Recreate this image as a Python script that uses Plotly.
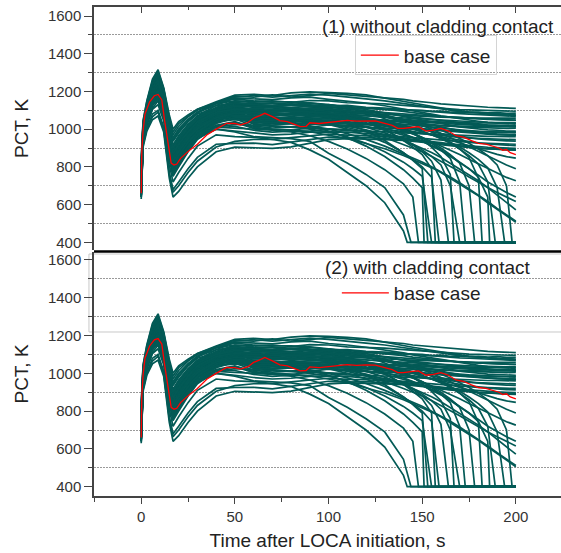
import plotly.graph_objects as go

# time grids of the run curves (s)
early_t = [0, 1, 3, 6, 9, 12, 15, 17, 20, 25, 30, 40, 50]
late_t = [60, 70, 80, 90, 100, 110, 120, 130, 140, 145, 150, 155, 160, 165, 170, 175, 180, 185, 190, 195, 200]

# runs that stay hot to 200 s: PCT (K) on early_t and late_t
steady_early = [
    [840, 1045, 1150, 1265, 1315, 1220, 1075, 1000, 1040, 1075, 1105, 1145, 1180],
    [800, 1020, 1125, 1235, 1280, 1195, 1030, 955, 1000, 1050, 1090, 1140, 1175],
    [760, 1000, 1100, 1210, 1255, 1170, 990, 915, 965, 1025, 1070, 1125, 1165],
    [720, 985, 1085, 1190, 1240, 1150, 960, 880, 930, 1000, 1055, 1115, 1150],
    [700, 975, 1075, 1180, 1225, 1140, 940, 860, 910, 985, 1040, 1100, 1140],
    [680, 965, 1065, 1165, 1210, 1125, 920, 840, 890, 965, 1025, 1090, 1130],
    [760, 995, 1090, 1195, 1245, 1160, 975, 895, 940, 1005, 1060, 1110, 1145],
    [690, 970, 1070, 1170, 1215, 1130, 930, 850, 900, 970, 1030, 1090, 1120],
    [650, 950, 1045, 1140, 1185, 1100, 885, 800, 850, 925, 985, 1060, 1100],
    [740, 990, 1085, 1185, 1230, 1145, 955, 875, 920, 990, 1045, 1100, 1125],
    [660, 955, 1050, 1150, 1195, 1110, 900, 815, 865, 940, 1000, 1070, 1105],
    [700, 975, 1070, 1170, 1215, 1130, 925, 845, 895, 960, 1015, 1075, 1095],
    [640, 940, 1035, 1130, 1170, 1085, 865, 780, 830, 905, 965, 1040, 1080],
    [720, 985, 1080, 1180, 1225, 1140, 945, 865, 910, 975, 1030, 1080, 1090],
    [670, 960, 1055, 1150, 1200, 1115, 905, 820, 870, 945, 1005, 1060, 1070],
    [650, 945, 1040, 1135, 1180, 1095, 880, 795, 845, 920, 980, 1040, 1055],
    [630, 930, 1020, 1110, 1150, 1060, 840, 750, 800, 880, 945, 1015, 1035],
    [680, 960, 1050, 1140, 1175, 1090, 870, 780, 830, 905, 965, 1020, 1015],
    [660, 950, 1040, 1125, 1160, 1075, 850, 760, 810, 885, 950, 1000, 990],
    [645, 935, 1025, 1105, 1130, 1045, 810, 720, 770, 845, 910, 970, 960],
    [640, 920, 1005, 1080, 1100, 1010, 770, 680, 720, 790, 850, 920, 925],
    [640, 905, 990, 1050, 1070, 985, 740, 640, 670, 740, 800, 880, 905],
    [790, 1015, 1115, 1225, 1270, 1185, 1015, 940, 985, 1040, 1085, 1135, 1170],
    [730, 985, 1085, 1190, 1235, 1150, 965, 885, 930, 1000, 1050, 1105, 1135],
    [710, 980, 1075, 1180, 1225, 1140, 945, 865, 915, 985, 1040, 1095, 1128],
    [690, 970, 1065, 1165, 1210, 1125, 925, 845, 895, 965, 1020, 1085, 1115],
    [670, 960, 1055, 1150, 1195, 1110, 905, 825, 875, 945, 1005, 1070, 1108],
    [700, 975, 1070, 1170, 1215, 1130, 930, 850, 900, 965, 1020, 1080, 1098],
    [660, 955, 1050, 1145, 1190, 1105, 895, 810, 860, 935, 995, 1060, 1085],
    [680, 965, 1060, 1160, 1205, 1120, 915, 835, 885, 955, 1010, 1070, 1088],
    [650, 945, 1040, 1135, 1180, 1095, 880, 795, 845, 920, 980, 1045, 1070],
    [670, 955, 1050, 1145, 1185, 1100, 890, 805, 855, 930, 990, 1050, 1062],
]
steady_late = [
    [1185, 1178, 1192, 1198, 1196, 1190, 1182, 1165, 1145, 1138, 1130, 1122, 1112, 1104, 1098, 1090, 1086, 1080, 1078, 1074, 1072],
    [1170, 1182, 1170, 1178, 1190, 1182, 1175, 1168, 1158, 1150, 1146, 1140, 1134, 1130, 1126, 1122, 1120, 1116, 1114, 1112, 1110],
    [1162, 1156, 1166, 1170, 1158, 1150, 1138, 1124, 1108, 1098, 1090, 1080, 1070, 1062, 1054, 1048, 1042, 1036, 1032, 1028, 1026],
    [1146, 1150, 1142, 1152, 1150, 1140, 1138, 1134, 1126, 1122, 1118, 1114, 1110, 1108, 1104, 1102, 1100, 1098, 1096, 1094, 1095],
    [1136, 1140, 1132, 1138, 1128, 1118, 1104, 1088, 1068, 1058, 1048, 1038, 1028, 1020, 1012, 1006, 1000, 996, 994, 990, 990],
    [1126, 1118, 1128, 1122, 1130, 1120, 1114, 1106, 1094, 1086, 1080, 1074, 1068, 1064, 1060, 1056, 1054, 1052, 1050, 1048, 1048],
    [1114, 1112, 1100, 1112, 1116, 1108, 1110, 1104, 1102, 1098, 1100, 1094, 1096, 1090, 1092, 1088, 1090, 1086, 1088, 1084, 1085],
    [1104, 1094, 1098, 1100, 1104, 1092, 1084, 1070, 1050, 1040, 1030, 1020, 1008, 1000, 992, 986, 980, 976, 972, 970, 968],
    [1090, 1086, 1078, 1090, 1094, 1086, 1080, 1078, 1072, 1070, 1068, 1066, 1064, 1062, 1060, 1060, 1058, 1058, 1058, 1056, 1058],
    [1082, 1072, 1078, 1072, 1080, 1068, 1058, 1042, 1022, 1010, 998, 988, 976, 968, 960, 954, 948, 944, 940, 938, 936],
    [1068, 1062, 1056, 1068, 1064, 1062, 1052, 1044, 1034, 1030, 1026, 1022, 1018, 1016, 1012, 1010, 1008, 1006, 1006, 1004, 1005],
    [1058, 1048, 1052, 1052, 1062, 1054, 1050, 1046, 1042, 1040, 1040, 1038, 1036, 1036, 1034, 1034, 1032, 1034, 1032, 1030, 1032],
    [1046, 1040, 1034, 1046, 1048, 1040, 1030, 1016, 998, 988, 978, 968, 958, 950, 942, 934, 928, 922, 918, 914, 912],
    [1036, 1028, 1030, 1030, 1040, 1034, 1030, 1028, 1024, 1022, 1020, 1018, 1018, 1016, 1016, 1014, 1014, 1012, 1014, 1012, 1012],
    [1026, 1018, 1012, 1026, 1024, 1020, 1010, 1000, 988, 982, 976, 970, 964, 960, 956, 952, 950, 948, 946, 944, 944],
    [1016, 1006, 1012, 1010, 1022, 1014, 1010, 1006, 1000, 998, 996, 994, 992, 990, 988, 988, 986, 986, 984, 984, 984],
    [1004, 998, 994, 1006, 1004, 998, 986, 972, 954, 944, 934, 926, 918, 912, 906, 902, 898, 896, 894, 892, 892],
    [994, 984, 990, 990, 1000, 992, 990, 986, 980, 978, 976, 972, 970, 968, 966, 964, 964, 962, 962, 960, 960],
    [978, 970, 974, 984, 986, 984, 976, 968, 958, 952, 948, 944, 940, 936, 932, 930, 926, 924, 922, 920, 920],
    [956, 946, 956, 966, 974, 968, 966, 960, 950, 946, 940, 934, 928, 922, 916, 912, 908, 904, 902, 900, 898],
    [926, 918, 932, 944, 958, 954, 956, 950, 944, 940, 934, 928, 922, 916, 910, 904, 900, 896, 892, 890, 888],
    [902, 898, 906, 926, 944, 950, 948, 944, 940, 936, 932, 926, 920, 914, 908, 904, 900, 896, 894, 892, 890],
    [1178, 1170, 1180, 1186, 1180, 1172, 1160, 1150, 1136, 1128, 1122, 1114, 1106, 1100, 1094, 1090, 1086, 1082, 1080, 1078, 1076],
    [1132, 1126, 1134, 1128, 1124, 1126, 1116, 1112, 1104, 1100, 1096, 1092, 1088, 1086, 1082, 1080, 1078, 1074, 1072, 1070, 1068],
    [1118, 1122, 1114, 1120, 1118, 1106, 1096, 1086, 1070, 1064, 1056, 1050, 1044, 1040, 1036, 1030, 1026, 1022, 1020, 1018, 1016],
    [1108, 1098, 1104, 1106, 1100, 1098, 1092, 1088, 1080, 1076, 1072, 1070, 1066, 1064, 1062, 1058, 1056, 1052, 1050, 1048, 1046],
    [1096, 1090, 1094, 1082, 1086, 1080, 1072, 1064, 1052, 1048, 1044, 1040, 1036, 1034, 1030, 1026, 1024, 1022, 1020, 1018, 1018],
    [1076, 1080, 1068, 1076, 1072, 1076, 1070, 1066, 1060, 1058, 1054, 1050, 1046, 1044, 1042, 1040, 1038, 1036, 1036, 1034, 1034],
    [1062, 1058, 1064, 1060, 1056, 1050, 1044, 1036, 1026, 1022, 1016, 1010, 1006, 1000, 996, 992, 988, 986, 984, 982, 980],
    [1052, 1056, 1046, 1058, 1054, 1058, 1052, 1048, 1042, 1040, 1036, 1032, 1030, 1026, 1024, 1022, 1020, 1018, 1016, 1016, 1014],
    [1040, 1046, 1040, 1038, 1044, 1036, 1028, 1020, 1010, 1006, 1000, 996, 992, 988, 984, 980, 976, 974, 972, 970, 968],
    [1030, 1022, 1030, 1036, 1032, 1028, 1024, 1018, 1010, 1006, 1002, 998, 994, 990, 986, 982, 980, 976, 974, 972, 970],
]

# runs that cool down slowly but do not quench before 200 s
sagging_early = [
    [700, 975, 1070, 1165, 1205, 1120, 915, 835, 885, 955, 1010, 1065, 1090],
    [750, 990, 1085, 1190, 1235, 1150, 960, 880, 925, 990, 1040, 1095, 1120],
    [690, 965, 1060, 1155, 1195, 1110, 900, 815, 865, 935, 990, 1050, 1080],
    [665, 955, 1045, 1140, 1180, 1095, 880, 795, 845, 920, 975, 1035, 1060],
    [780, 1000, 1100, 1205, 1250, 1165, 985, 905, 950, 1015, 1065, 1115, 1140],
    [655, 945, 1035, 1125, 1165, 1080, 860, 770, 820, 895, 955, 1020, 1040],
    [720, 980, 1075, 1175, 1220, 1135, 935, 855, 900, 970, 1025, 1080, 1105],
    [705, 975, 1065, 1160, 1200, 1115, 910, 830, 880, 950, 1000, 1055, 1075],
]
sagging_late = [
    [1080, 1072, 1082, 1074, 1070, 1060, 1046, 1030, 1010, 1002, 986, 972, 956, 942, 926, 912, 896, 880, 866, 854, 846],
    [1098, 1094, 1100, 1088, 1080, 1064, 1046, 1020, 990, 976, 956, 934, 914, 890, 866, 840, 816, 790, 766, 744, 726],
    [1060, 1054, 1050, 1046, 1030, 1010, 986, 956, 920, 902, 880, 856, 830, 806, 776, 746, 716, 690, 664, 640, 616],
    [1040, 1036, 1030, 1018, 1000, 976, 946, 910, 870, 850, 826, 800, 774, 746, 716, 684, 650, 616, 580, 546, 512],
    [1130, 1124, 1130, 1126, 1120, 1110, 1096, 1076, 1050, 1036, 1020, 1000, 980, 956, 930, 906, 880, 856, 830, 810, 790],
    [1010, 1000, 996, 986, 970, 950, 924, 896, 860, 840, 820, 796, 770, 740, 710, 680, 646, 610, 576, 540, 506],
    [1090, 1084, 1080, 1076, 1066, 1050, 1030, 1006, 976, 956, 936, 910, 886, 856, 824, 790, 756, 720, 690, 664, 640],
    [1050, 1046, 1044, 1040, 1030, 1016, 996, 970, 940, 920, 900, 876, 850, 820, 790, 760, 726, 690, 650, 610, 572],
]

# runs that quench: late values stop at the last grid point before the quench time
quenched_early = [
    [650, 915, 1000, 1065, 1090, 1000, 760, 665, 700, 770, 830, 905, 935],
    [700, 960, 1050, 1140, 1180, 1095, 880, 795, 845, 910, 960, 1000, 985],
    [760, 995, 1090, 1195, 1240, 1155, 965, 885, 930, 990, 1035, 1010, 1005],
    [680, 960, 1055, 1150, 1195, 1110, 900, 815, 865, 935, 990, 1040, 1050],
    [800, 1020, 1120, 1225, 1270, 1185, 1010, 935, 980, 1040, 1080, 1110, 1110],
    [665, 950, 1040, 1135, 1175, 1090, 870, 785, 835, 910, 965, 1010, 1025],
    [820, 1030, 1135, 1245, 1295, 1210, 1045, 970, 1015, 1065, 1100, 1135, 1150],
    [695, 965, 1060, 1155, 1200, 1115, 905, 820, 870, 945, 1000, 1050, 1070],
    [740, 990, 1085, 1185, 1230, 1145, 950, 870, 915, 980, 1035, 1085, 1110],
    [830, 1040, 1145, 1255, 1305, 1215, 1060, 985, 1030, 1070, 1105, 1140, 1160],
    [710, 975, 1070, 1165, 1210, 1125, 925, 845, 890, 960, 1015, 1060, 1075],
    [790, 1010, 1110, 1215, 1260, 1175, 995, 915, 960, 1020, 1065, 1105, 1125],
    [675, 955, 1050, 1145, 1190, 1105, 895, 810, 860, 930, 985, 1050, 1085],
    [810, 1025, 1130, 1240, 1285, 1200, 1025, 950, 995, 1050, 1090, 1125, 1140],
    [655, 945, 1035, 1130, 1170, 1085, 865, 780, 830, 905, 965, 1030, 1060],
    [745, 990, 1085, 1185, 1230, 1145, 955, 870, 920, 985, 1040, 1090, 1105],
    [705, 970, 1065, 1160, 1205, 1120, 915, 830, 880, 950, 1005, 1060, 1085],
    [775, 1000, 1095, 1200, 1245, 1160, 980, 900, 945, 1005, 1055, 1100, 1120],
]
quenched_late = [
    [945, 945, 930, 890, 840, 770, 700, 610, 460],
    [960, 955, 950, 935, 872, 820, 760, 690, 545],
    [1000, 995, 985, 965, 935, 895, 845, 785, 710, 640],
    [1040, 1035, 1030, 1015, 990, 955, 910, 855, 785, 740, 690],
    [1100, 1095, 1090, 1080, 1060, 1030, 990, 940, 875, 835, 790],
    [1020, 1015, 1010, 1000, 985, 960, 925, 880, 825, 790, 750],
    [1140, 1135, 1130, 1120, 1105, 1080, 1045, 1000, 940, 905, 865, 790],
    [1060, 1055, 1050, 1040, 1025, 1000, 970, 930, 875, 840, 800, 745],
    [1110, 1105, 1100, 1095, 1085, 1065, 1035, 995, 945, 915, 880, 830, 730],
    [1150, 1145, 1145, 1140, 1130, 1115, 1090, 1055, 1010, 980, 945, 905, 855, 760],
    [1070, 1065, 1060, 1055, 1045, 1030, 1010, 980, 945, 920, 890, 855, 810, 700],
    [1120, 1115, 1110, 1105, 1095, 1080, 1060, 1035, 1000, 980, 955, 925, 890, 845, 720],
    [1090, 1085, 1080, 1075, 1070, 1060, 1045, 1025, 995, 975, 955, 930, 900, 865, 820, 700],
    [1130, 1125, 1125, 1120, 1110, 1100, 1085, 1065, 1040, 1025, 1005, 985, 960, 930, 895, 850, 740],
    [1060, 1055, 1050, 1045, 1040, 1030, 1015, 995, 970, 955, 935, 915, 890, 860, 825, 790, 745, 640],
    [1100, 1095, 1095, 1090, 1085, 1075, 1060, 1045, 1020, 1005, 990, 970, 950, 925, 895, 860, 815, 720],
    [1080, 1075, 1075, 1070, 1065, 1055, 1045, 1030, 1010, 1000, 985, 970, 950, 930, 905, 875, 840, 795, 690],
    [1120, 1115, 1110, 1110, 1105, 1095, 1085, 1070, 1050, 1040, 1025, 1010, 995, 975, 950, 925, 895, 860, 810, 700],
]
quench_time = [142, 144, 148, 151, 153, 155, 157, 159, 164, 167, 170, 173, 178, 182, 186, 189, 194, 198]
quench_floor = 400

# base case
base_t = [0, 0.3, 1, 2, 4.5, 7, 9, 11, 12.5, 14.5, 16, 17.5, 19, 21, 26, 30, 35, 40, 45.6, 50,
          53, 57, 60, 63, 66, 70, 74, 78, 82, 85, 88, 90, 95, 100, 105, 110, 115, 120, 125, 130,
          134, 137, 140, 145, 148, 152, 156, 160, 164, 168, 172, 176, 180, 184, 188, 191, 193, 195, 197, 200]
base_pct = [660, 880, 990, 1080, 1145, 1177, 1184, 1155, 1045, 900, 820, 810, 815, 845, 890, 920, 969, 1000, 1031, 1030,
            1022, 1035, 1058, 1070, 1084, 1066, 1045, 1040, 1025, 1013, 1015, 1034, 1030, 1034, 1040, 1046, 1042, 1045, 1044, 1031,
            1020, 1004, 1004, 1010, 1013, 990, 995, 1004, 990, 965, 958, 940, 925, 920, 907, 900, 888, 892, 875, 865]

panel_labels = ["(1) without cladding contact", "(2) with cladding contact"]

TEAL = "rgb(3,90,86)"
FONT = "Arial, 'Liberation Sans', sans-serif"


def bundle_xy():
    # all runs in one trace, separated by None
    xs, ys = [], []
    for e, l in zip(steady_early + sagging_early, steady_late + sagging_late):
        xs += early_t + late_t + [None]
        ys += e + l + [None]
    for e, l, tq in zip(quenched_early, quenched_late, quench_time):
        xs += early_t + late_t[:len(l)] + [tq, late_t[-1], None]
        ys += e + l + [quench_floor, quench_floor, None]
    return xs, ys


bx, by = bundle_xy()

fig = go.Figure()
for xa, ya, lg in [("x2", "y", "legend"), ("x", "y2", "legend2")]:
    fig.add_trace(go.Scatter(x=bx, y=by, mode="lines", xaxis=xa, yaxis=ya,
                             line=dict(color=TEAL, width=1.7), showlegend=False, hoverinfo="skip"))
    fig.add_trace(go.Scatter(x=base_t, y=base_pct, mode="lines", xaxis=xa, yaxis=ya, name="base case",
                             line=dict(color="#ff0000", width=1.3), legend=lg))

x_range = [-25.2, 224.1]
y_common = dict(
    dtick=200, tick0=0, ticks="outside", ticklen=8, tickcolor="#444",
    minor=dict(dtick=100, ticks="outside", ticklen=4, tickcolor="#444",
               showgrid=True, gridcolor="#9a9a9a", griddash="2px,1px", gridwidth=1),
    showgrid=False, zeroline=False, showline=True, linecolor="#444", linewidth=1.5,
    tickfont=dict(size=15, color="#333"),
    title=dict(text="PCT, K", font=dict(size=19, color="#222"), standoff=14),
)
y_right = dict(side="right", dtick=100, tick0=0, ticks="inside", ticklen=5, tickcolor="#444",
               showticklabels=False, showgrid=False, zeroline=False, showline=False)

fig.update_layout(
    width=561, height=553,
    margin=dict(l=94, r=0, t=7, b=57, autoexpand=False),
    plot_bgcolor="white", paper_bgcolor="white",
    font=dict(family=FONT, color="#222"),
    xaxis=dict(anchor="y2", range=x_range, dtick=50, tick0=0, ticks="outside", ticklen=6, tickcolor="#444",
               minor=dict(dtick=25, ticks="outside", ticklen=4, tickcolor="#444"),
               showgrid=False, zeroline=False, showline=True, linecolor="#444", linewidth=1.5,
               tickfont=dict(size=15, color="#333"),
               title=dict(text="Time after LOCA initiation, s", font=dict(size=19, color="#222"), standoff=10)),
    xaxis2=dict(anchor="y", matches="x", side="top", dtick=50, tick0=0, ticks="inside", ticklen=6, tickcolor="#444",
                minor=dict(dtick=25, ticks="inside", ticklen=3, tickcolor="#444"),
                showticklabels=False, showgrid=False, zeroline=False, showline=True, linecolor="#444", linewidth=1.5),
    xaxis3=dict(anchor="y2", overlaying="x", matches="x", side="top", dtick=50, tick0=0, ticks="inside", ticklen=4,
                tickcolor="#444", minor=dict(dtick=25, ticks="inside", ticklen=3, tickcolor="#444"),
                showticklabels=False, showgrid=False, zeroline=False, showline=False),
    yaxis=dict(domain=[0.5031, 1], anchor="x2", range=[359.2, 1647.7], **y_common),
    yaxis2=dict(domain=[0, 0.499], anchor="x", range=[350.8, 1642.3], **y_common),
    yaxis3=dict(overlaying="y", anchor="x2", range=[359.2, 1647.7], **y_right),
    yaxis4=dict(overlaying="y2", anchor="x", range=[350.8, 1642.3], **y_right),
    legend=dict(x=0.5585, y=0.942, xanchor="left", yanchor="top", bgcolor="rgba(255,255,255,0)",
                bordercolor="#d4d4d4", borderwidth=1, itemwidth=38, font=dict(size=19, color="#222")),
    legend2=dict(x=0.52, y=0.415, xanchor="left", yanchor="middle", bgcolor="rgba(255,255,255,0)",
                 borderwidth=0, itemwidth=47, font=dict(size=19, color="#222")),
    showlegend=True,
)

# thick separator between the panels and the stray frame left in panel (2)
fig.add_shape(type="line", xref="paper", yref="paper", x0=0, x1=1, y0=0.5, y1=0.5,
              line=dict(color="black", width=2.5))
fig.add_shape(type="rect", xref="paper", yref="paper", x0=-0.0108, x1=1.02, y0=0.3354, y1=0.4949,
              line=dict(color="#c8c8c8", width=1), layer="below")

fig.add_annotation(text=panel_labels[0], xref="paper", yref="paper", x=0.989, y=0.961,
                   xanchor="right", yanchor="middle", showarrow=False, font=dict(size=19, color="#222"))
fig.add_annotation(text=panel_labels[1], xref="paper", yref="paper", x=0.939, y=0.4663,
                   xanchor="right", yanchor="middle", showarrow=False, font=dict(size=19, color="#222"))

# the page body has a default 8px margin; drop it so the figure sits at the window corner
fig.write_html("out.html", config={"displayModeBar": False},
               post_script="document.body.style.margin='0px';")
